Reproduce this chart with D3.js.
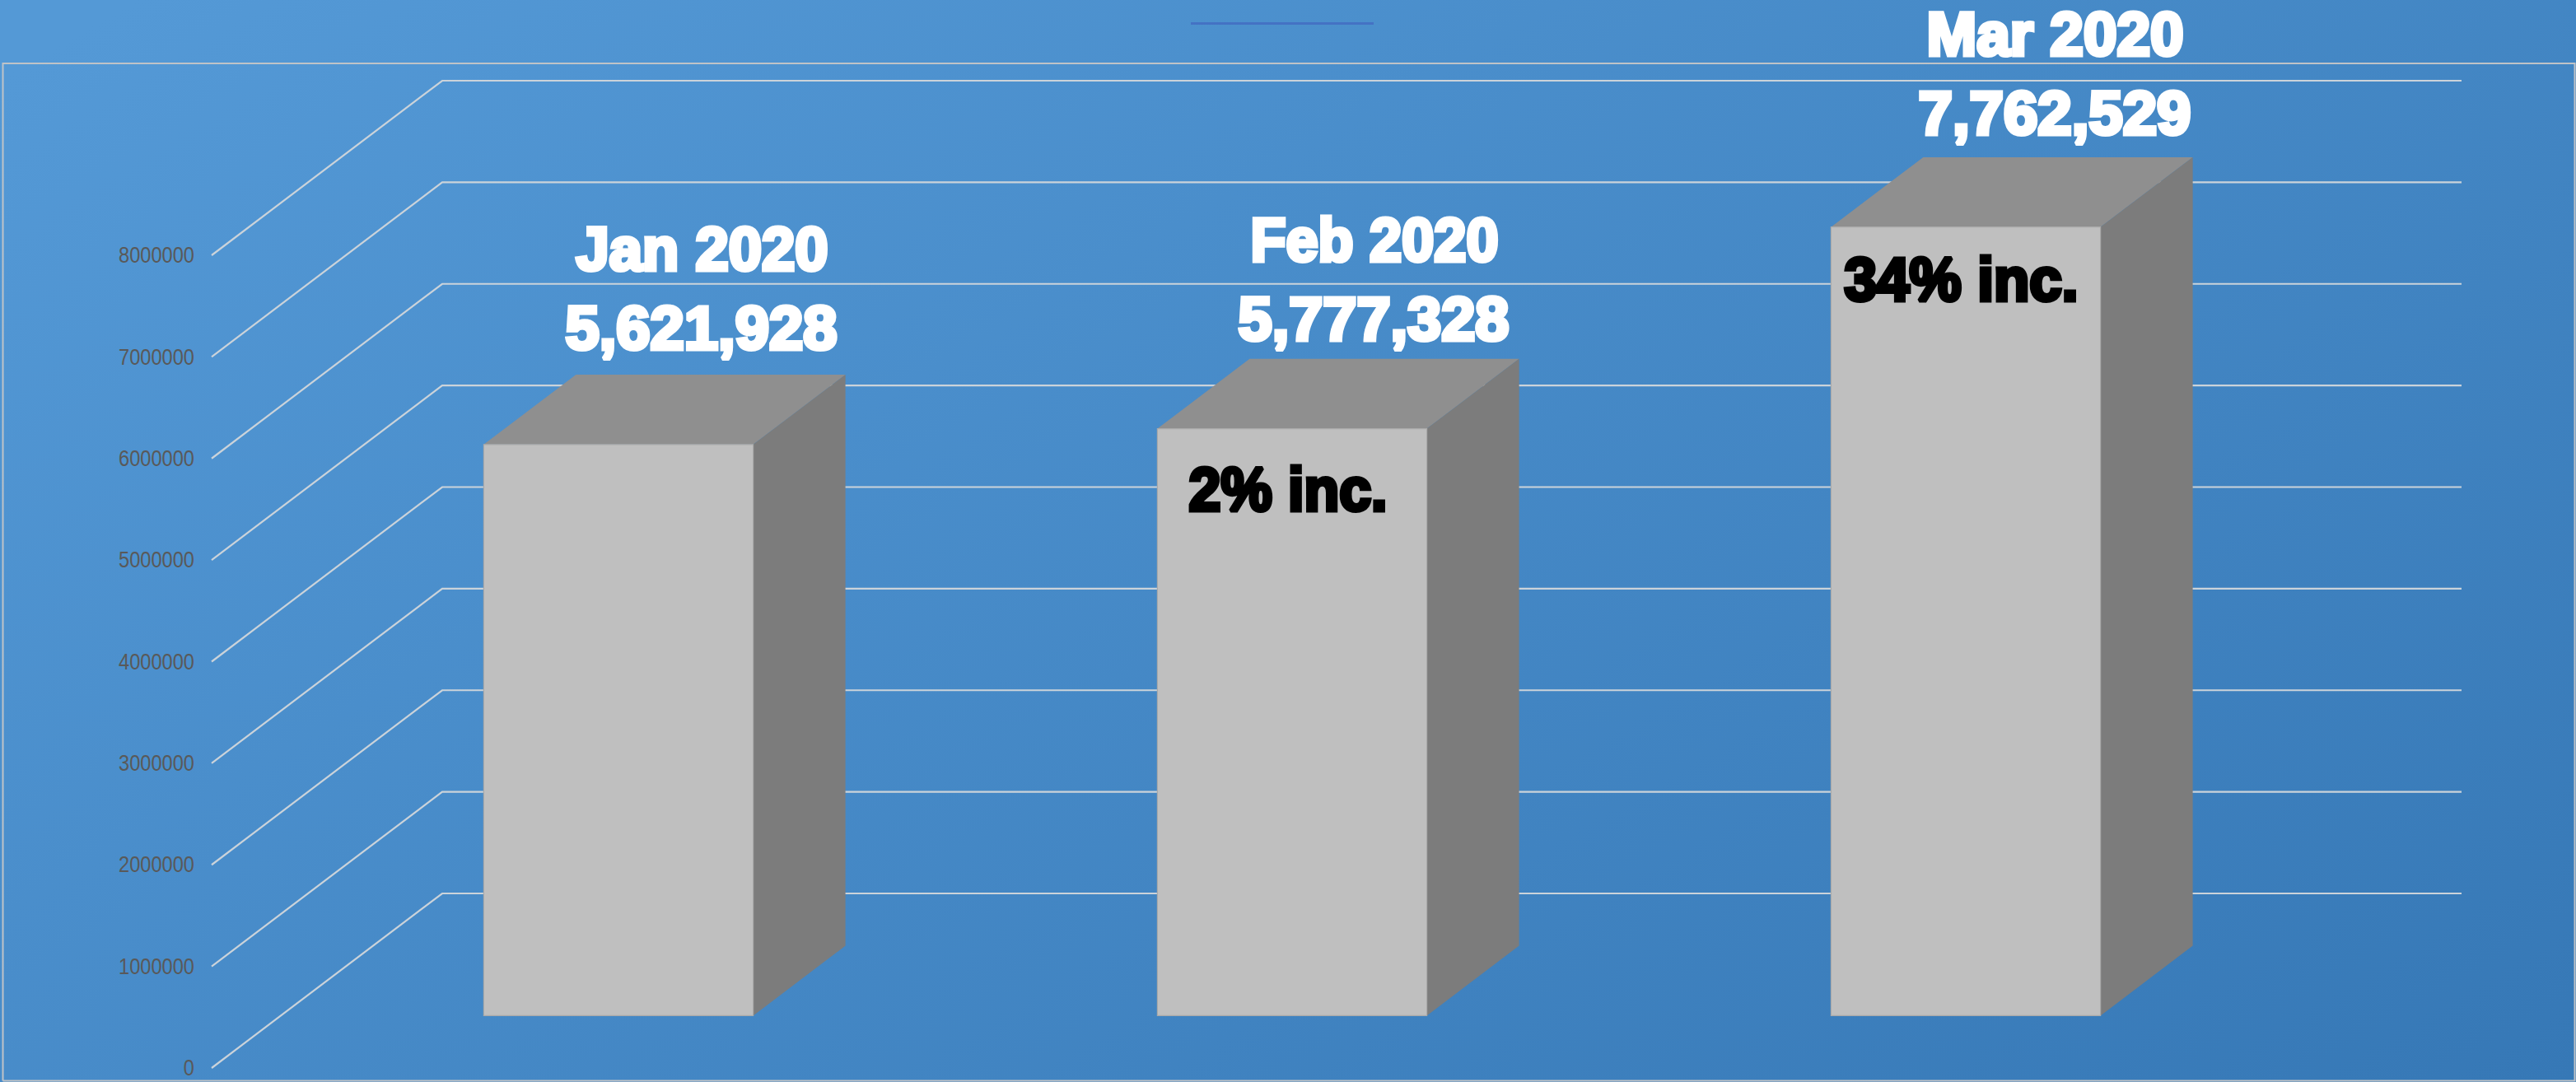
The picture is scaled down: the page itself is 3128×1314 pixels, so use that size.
<!DOCTYPE html>
<html>
<head>
<meta charset="utf-8">
<script src="https://cdn.jsdelivr.net/npm/d3@7/dist/d3.min.js"></script>
<style>
  html, body { margin: 0; padding: 0; background: #4a8ecc; }
  svg { display: block; }
  text { font-family: "Liberation Sans", Arial, sans-serif; }
</style>
</head>
<body>
<svg id="chart" width="3128" height="1314"></svg>
<script>
// Monthly totals
const months = ["Jan 2020", "Feb 2020", "Mar 2020"];
const totals = [5621928, 5777328, 7762529];
const changes = [null, "2% inc.", "34% inc."];
const axisTicks = [0, 1000000, 2000000, 3000000, 4000000, 5000000, 6000000, 7000000, 8000000];

const W = 3128, H = 1314;

// Oblique projection: the floor runs from the front edge to the back wall
const depth = { dx: 280, dy: -212 };
const barDepth = { near: 0.3, far: 0.7 };
const plotLeft = 257, plotRight = 2709;

const x = d3.scaleBand().domain(months).range([258, 2712]).paddingInner(0.6).paddingOuter(0.3);
const y = d3.scaleLinear().domain([0, 8000000]).range([1297, 310]);

const project = (px, value, t) => [px + t * depth.dx, y(value) + t * depth.dy];
const poly = pts => pts.map(p => p.join(",")).join(" ");

const svg = d3.select("#chart");

// Background gradient
const defs = svg.append("defs");
const grad = defs.append("linearGradient")
  .attr("id", "bg").attr("gradientUnits", "userSpaceOnUse")
  .attr("x1", 250).attr("y1", -50).attr("x2", 1583).attr("y2", 2218);
grad.append("stop").attr("offset", 0).attr("stop-color", "#5499D6");
grad.append("stop").attr("offset", 1).attr("stop-color", "#3678B6");
svg.append("rect").attr("width", W).attr("height", H).attr("fill", "url(#bg)");

// Chart frame
svg.append("path")
  .attr("d", `M3.5,1312.5 V77 H3126.5 V1312.5 H3.5`)
  .attr("fill", "none").attr("stroke", "#BFC3C7").attr("stroke-width", 2);

// Empty title rule above the frame
svg.append("rect")
  .attr("x", 1446).attr("y", 27).attr("width", 222).attr("height", 3)
  .attr("fill", "#4472C4");

// Gridlines: slanted along the side wall, then flat along the back wall
svg.append("g").selectAll("polyline").data(axisTicks).join("polyline")
  .attr("points", d => poly([
    project(plotLeft, d, 0),
    project(plotLeft, d, 1),
    project(plotRight, d, 1)
  ]))
  .attr("fill", "none")
  .attr("stroke", "#CBD3DA")
  .attr("stroke-width", 2.2);

// Value axis
const axis = d3.axisLeft(y).tickValues(axisTicks).tickSize(0).tickPadding(0).tickFormat(d3.format("d"));
const axisG = svg.append("g").attr("transform", "translate(236,0)").call(axis);
axisG.select(".domain").remove();
axisG.selectAll("text")
  .attr("x", 0)
  .attr("font-size", 27)
  .style("font-family", '"Liberation Sans", Arial, sans-serif')
  .attr("fill", "#595959")
  .attr("textLength", d => String(d).length * 13.14)
  .attr("lengthAdjust", "spacingAndGlyphs");

// Bars as three faces
const bars = svg.append("g").selectAll("g").data(months.map((m, i) => ({ m, v: totals[i] }))).join("g");
const bw = x.bandwidth();

bars.append("polygon").attr("fill", "#8F8F8F")
  .attr("points", d => {
    const l = x(d.m);
    return poly([
      project(l, d.v, barDepth.near), project(l + bw, d.v, barDepth.near),
      project(l + bw, d.v, barDepth.far), project(l, d.v, barDepth.far)
    ]);
  });
bars.append("polygon").attr("fill", "#7C7C7C")
  .attr("points", d => {
    const r = x(d.m) + bw;
    return poly([
      project(r, d.v, barDepth.near), project(r, 0, barDepth.near),
      project(r, 0, barDepth.far), project(r, d.v, barDepth.far)
    ]);
  });
bars.append("polygon").attr("fill", "#BFBFBF").attr("stroke", "#A9A9A9").attr("stroke-width", 1.2)
  .attr("points", d => {
    const l = x(d.m);
    return poly([
      project(l, d.v, barDepth.near), project(l + bw, d.v, barDepth.near),
      project(l + bw, 0, barDepth.near), project(l, 0, barDepth.near)
    ]);
  });

// Hand-placed callouts above and on the bars; an outline thickens the strokes
const heavyText = (t, cx, base, width, fill) => svg.append("text")
  .attr("x", cx).attr("y", base)
  .attr("text-anchor", "middle")
  .attr("font-size", 74)
  .attr("font-weight", 700)
  .attr("fill", fill)
  .attr("stroke", fill)
  .attr("stroke-width", 5)
  .attr("stroke-linejoin", "miter")
  .attr("stroke-miterlimit", 2)
  .attr("textLength", width)
  .attr("lengthAdjust", "spacingAndGlyphs")
  .text(t);

const headPlacement = [
  { monthX: 852.5, valueX: 851.5, monthBase: 327.5, valueBase: 423.5, monthW: 306, valueW: 330 },
  { monthX: 1669, valueX: 1668, monthBase: 316.5, valueBase: 412.5, monthW: 301, valueW: 329 },
  { monthX: 2495.5, valueX: 2495, monthBase: 67, valueBase: 162.5, monthW: 312, valueW: 331 }
];
const changePlacement = [null, { cx: 1564, base: 619.5, w: 241 }, { cx: 2381.5, base: 364.5, w: 284 }];

months.forEach((m, i) => {
  const h = headPlacement[i];
  heavyText(m, h.monthX, h.monthBase, h.monthW, "#FFFFFF");
  heavyText(d3.format(",")(totals[i]), h.valueX, h.valueBase, h.valueW, "#FFFFFF");
  if (changes[i]) {
    const c = changePlacement[i];
    heavyText(changes[i], c.cx, c.base, c.w, "#000000");
  }
});
</script>
</body>
</html>
